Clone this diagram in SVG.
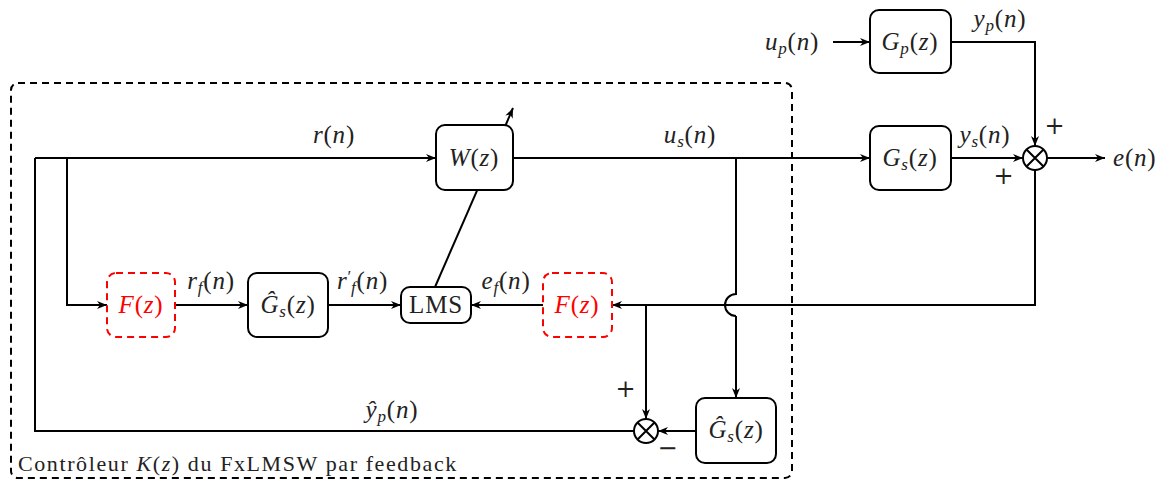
<svg xmlns="http://www.w3.org/2000/svg" width="1169" height="481" viewBox="0 0 1169 481">
<style>
text{font-family:"Liberation Serif","DejaVu Serif",serif;font-size:25px;fill:#222;letter-spacing:0.8px}
.it{font-style:italic}
.sub{font-size:17px;font-style:italic}
.box{fill:#fff;stroke:#000;stroke-width:2}
.rbox{fill:#fff;stroke:#f00;stroke-width:2;stroke-dasharray:7,5}
.red{fill:#f00}
.ln{fill:none;stroke:#000;stroke-width:2}
.arr{fill:none;stroke:#000;stroke-width:2;marker-end:url(#ah)}
.frame{fill:none;stroke:#000;stroke-width:2;stroke-dasharray:7,5}
.sum{fill:#fff;stroke:#000;stroke-width:2}
.pm{font-family:"DejaVu Serif","Liberation Serif",serif;font-size:24px;fill:#222}
.cap{font-size:22px;letter-spacing:1.6px}
</style>
<defs>
<marker id="ah" viewBox="0 0 10 8" refX="10" refY="4" markerWidth="10" markerHeight="8" markerUnits="userSpaceOnUse" orient="auto">
<path d="M0,0 L10,4 L0,8 L3,4 Z" fill="#000"/>
</marker>
</defs>

<g id="frame">
<rect class="frame" x="11" y="83" width="781" height="395" rx="7"/>
<text class="cap" x="18" y="471">Contrôleur <tspan class="it">K</tspan>(<tspan class="it">z</tspan>) du FxLMSW par feedback</text>
</g>

<g id="connectors">
<polyline class="arr" points="35,158 436,158"/>
<polyline class="ln" points="35,158 35,431 634,431"/>
<polyline class="arr" points="67,158 67,305 107,305"/>
<polyline class="arr" points="175,305 248,305"/>
<polyline class="arr" points="328,305 401,305"/>
<polyline class="arr" points="543,305 471,305"/>
<polyline class="arr" points="513,158 870,158"/>
<polyline class="arr" points="435,287 513,108"/>
<polyline class="arr" points="833,42 870,42"/>
<polyline class="arr" points="951,42 1035,42 1035,146"/>
<polyline class="arr" points="951,158 1023,158"/>
<polyline class="arr" points="1047,158 1105,158"/>
<polyline class="arr" points="1035,170 1035,305 612,305"/>
<path class="ln" d="M736,158 L736,294 A11,11 0 0 0 736,316"/>
<polyline class="arr" points="736,316 736,398"/>
<polyline class="arr" points="646,305 646,419"/>
<polyline class="arr" points="696,431 658,431"/>
</g>

<g id="W">
<rect class="box" x="436" y="125" width="77" height="65" rx="9"/>
<text x="474" y="166" text-anchor="middle"><tspan class="it">W</tspan>(<tspan class="it">z</tspan>)</text>
</g>

<g id="Gp">
<rect class="box" x="870" y="10" width="81" height="63" rx="9"/>
<text x="910" y="50" text-anchor="middle"><tspan class="it">G</tspan><tspan class="sub" dy="4">p</tspan><tspan dy="-4">(</tspan><tspan class="it">z</tspan>)</text>
</g>

<g id="Gs">
<rect class="box" x="870" y="126" width="81" height="64" rx="9"/>
<text x="910" y="166" text-anchor="middle"><tspan class="it">G</tspan><tspan class="sub" dy="4">s</tspan><tspan dy="-4">(</tspan><tspan class="it">z</tspan>)</text>
</g>

<g id="F1">
<rect class="rbox" x="107" y="273" width="68" height="64" rx="9"/>
<text x="141" y="313" text-anchor="middle" class="red"><tspan class="it">F</tspan>(<tspan class="it">z</tspan>)</text>
</g>

<g id="Gshat1">
<rect class="box" x="248" y="273" width="80" height="64" rx="9"/>
<text x="288" y="313" text-anchor="middle"><tspan class="it">Ĝ</tspan><tspan class="sub" dy="4">s</tspan><tspan dy="-4">(</tspan><tspan class="it">z</tspan>)</text>
</g>

<g id="LMS">
<rect class="box" x="401" y="287" width="70" height="36" rx="9"/>
<text x="436" y="313" text-anchor="middle" font-size="23" letter-spacing="0">LMS</text>
</g>

<g id="F2">
<rect class="rbox" x="543" y="273" width="69" height="64" rx="9"/>
<text x="577" y="313" text-anchor="middle" class="red"><tspan class="it">F</tspan>(<tspan class="it">z</tspan>)</text>
</g>

<g id="Gshat2">
<rect class="box" x="696" y="398" width="80" height="65" rx="9"/>
<text x="736" y="438" text-anchor="middle"><tspan class="it">Ĝ</tspan><tspan class="sub" dy="4">s</tspan><tspan dy="-4">(</tspan><tspan class="it">z</tspan>)</text>
</g>

<g id="sum1">
<circle class="sum" cx="1035" cy="158" r="12"/>
<path class="ln" d="M1026.5,149.5 L1043.5,166.5 M1043.5,149.5 L1026.5,166.5"/>
<text class="pm" x="1055" y="134" text-anchor="middle">+</text>
<text class="pm" x="1004" y="184" text-anchor="middle">+</text>
</g>

<g id="sum2">
<circle class="sum" cx="646" cy="431" r="12"/>
<path class="ln" d="M637.5,422.5 L654.5,439.5 M654.5,422.5 L637.5,439.5"/>
<text class="pm" x="626" y="397" text-anchor="middle">+</text>
<text class="pm" x="668" y="456" text-anchor="middle">−</text>
</g>

<g id="labels">
<text x="334" y="143" text-anchor="middle"><tspan class="it">r</tspan>(<tspan class="it">n</tspan>)</text>
<text x="690" y="143" text-anchor="middle"><tspan class="it">u</tspan><tspan class="sub" dy="4">s</tspan><tspan dy="-4">(</tspan><tspan class="it">n</tspan>)</text>
<text x="985" y="143" text-anchor="middle"><tspan class="it">y</tspan><tspan class="sub" dy="4">s</tspan><tspan dy="-4">(</tspan><tspan class="it">n</tspan>)</text>
<text x="1000" y="27" text-anchor="middle"><tspan class="it">y</tspan><tspan class="sub" dy="4">p</tspan><tspan dy="-4">(</tspan><tspan class="it">n</tspan>)</text>
<text x="792" y="50" text-anchor="middle"><tspan class="it">u</tspan><tspan class="sub" dy="4">p</tspan><tspan dy="-4">(</tspan><tspan class="it">n</tspan>)</text>
<text x="1113" y="166"><tspan class="it">e</tspan>(<tspan class="it">n</tspan>)</text>
<text x="211" y="289" text-anchor="middle"><tspan class="it">r</tspan><tspan class="sub" dy="4">f</tspan><tspan dy="-4">(</tspan><tspan class="it">n</tspan>)</text>
<text x="337" y="289"><tspan class="it">r</tspan><tspan font-size="17" dy="-7">′</tspan><tspan class="sub" dx="-1" dy="11">f</tspan><tspan dy="-4">(</tspan><tspan class="it">n</tspan>)</text>
<text x="506" y="289" text-anchor="middle"><tspan class="it">e</tspan><tspan class="sub" dy="4">f</tspan><tspan dy="-4">(</tspan><tspan class="it">n</tspan>)</text>
<text x="392" y="418" text-anchor="middle"><tspan class="it">ŷ</tspan><tspan class="sub" dy="4">p</tspan><tspan dy="-4">(</tspan><tspan class="it">n</tspan>)</text>
</g>
</svg>
